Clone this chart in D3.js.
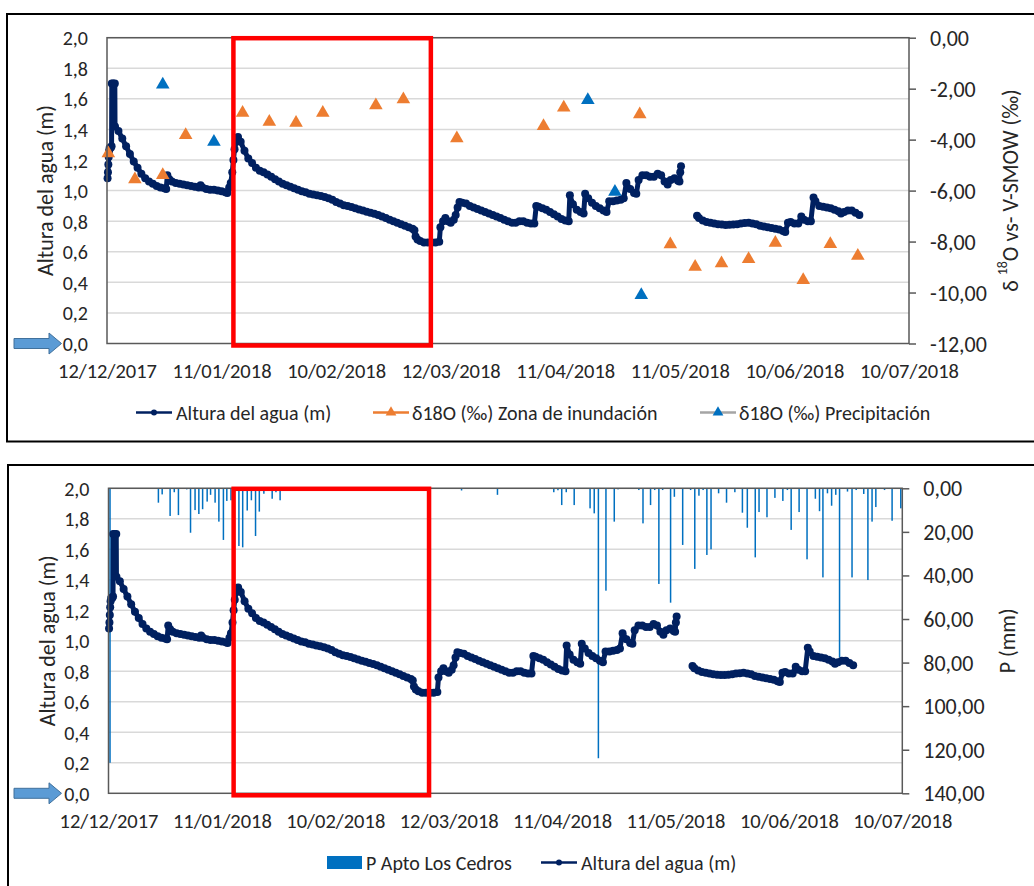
<!DOCTYPE html>
<html><head><meta charset="utf-8">
<script src="https://cdn.jsdelivr.net/npm/d3@7"></script>
<style>
body{margin:0;background:#fff;}
svg text{font-family:"Carlito","Open Sans",sans-serif;fill:#262626;}
</style></head><body>
<svg id="c" width="1034" height="886"></svg>
<script>
// ---------- DATA ----------
const startDate = "2017-12-12";
const endDate = "2018-07-10";
const dateTicks = ["2017-12-12","2018-01-11","2018-02-10","2018-03-12","2018-04-11","2018-05-11","2018-06-10","2018-07-10"];
const leftTicks = [0,0.2,0.4,0.6,0.8,1.0,1.2,1.4,1.6,1.8,2.0];
const isoTicks = [0,-2,-4,-6,-8,-10,-12];
const rainTicks = [0,20,40,60,80,100,120,140];

// water level (m): day offset from 12/12/2017, value (null = gap)
const levelDays = [0.15,0.25,0.35,0.45,0.55,0.7,1.0,1.2,1.25,1.6,2.05,2.1,
 3,4,5,6,7,8,9,10,11,12,13,14,15,15.5,15.8,16.3,17,18,19,20,21,22,23,24,24.5,25,26,27,28,29,30,31,31.5,
 32,32.4,32.8,33.1,33.4,33.8,34.3,35,36,37,38,39,40,41,42,43,44,45,46,47,48,49,50,51,52,53,54,55,56,57,58,59,60,
 61,62,63,64,65,66,67,68,69,70,71,72,73,74,75,76,77,78,79,80,80.5,80.8,81.3,82,83,84,85,86,87,
 87.3,88,88.6,89.3,90,90.8,91.3,91.8,92.3,93,94,95,96,97,98,99,100,101,102,103,104,105,106,107,108,109,110,111,111.9,
 112.4,113,114,115,116,117,118,119,120,120.9,121.2,122,123,124,124.8,125.2,126,127,128,129,130,130.8,131.5,132.5,133.5,134.5,135.3,
 136,137,138,138.6,139.2,140.2,141.2,142.2,143.2,144.2,145.1,146,146.8,147.6,148.6,149.5,149.9,150.1,150.3,
 152,
 154.5,155,156,157,158,159,160,161,162,163,164,165,166,167,168,169,170,171,172,173,174,175,176,177,177.6,
 178.3,179,180,181,181.8,182.5,183.5,184.3,185,185.5,186.5,187.5,188.5,189.5,190.5,191.5,192.2,193,194,195,196,197];
const levelValues = [1.08,1.12,1.17,1.22,1.26,1.28,1.28,1.29,1.70,1.70,1.70,1.42,
 1.39,1.34,1.29,1.24,1.19,1.15,1.11,1.08,1.06,1.045,1.03,1.02,1.015,1.01,1.10,1.075,1.06,1.05,1.045,1.04,1.035,1.03,1.025,1.02,1.035,1.02,1.01,1.005,1.005,1.0,0.995,0.99,0.985,
 1.02,1.05,1.12,1.2,1.27,1.32,1.35,1.32,1.26,1.21,1.18,1.15,1.13,1.12,1.105,1.09,1.075,1.06,1.045,1.035,1.025,1.015,1.005,0.995,0.99,0.98,0.975,0.97,0.965,0.958,0.95,0.94,0.925,
 0.915,0.905,0.9,0.893,0.885,0.877,0.87,0.862,0.855,0.848,0.84,0.83,0.82,0.81,0.8,0.79,0.78,0.77,0.76,0.75,0.74,0.70,0.68,0.67,0.66,0.66,0.66,0.66,0.665,
 0.76,0.80,0.82,0.80,0.79,0.81,0.84,0.89,0.925,0.92,0.915,0.90,0.89,0.88,0.87,0.86,0.85,0.84,0.83,0.82,0.81,0.80,0.79,0.79,0.80,0.80,0.79,0.785,0.785,
 0.90,0.895,0.885,0.875,0.86,0.845,0.83,0.815,0.805,0.80,0.97,0.91,0.875,0.86,0.85,0.98,0.95,0.92,0.90,0.885,0.87,0.86,0.93,0.93,0.935,0.94,0.95,
 1.05,1.01,0.985,0.98,1.07,1.10,1.10,1.09,1.09,1.11,1.10,1.06,1.04,1.07,1.08,1.065,1.06,1.12,1.16,
 null,
 0.835,0.82,0.805,0.795,0.79,0.785,0.78,0.778,0.775,0.776,0.778,0.78,0.785,0.788,0.79,0.785,0.78,0.77,0.765,0.76,0.755,0.75,0.745,0.735,0.73,
 0.79,0.795,0.785,0.785,0.83,0.81,0.80,0.80,0.955,0.93,0.90,0.895,0.89,0.885,0.875,0.865,0.85,0.86,0.87,0.87,0.855,0.84];

// δ18O (‰) flood zone
const zonaDays = [0.35,7.3,14.6,20.6,35.5,42.5,49.5,56.5,70.4,77.6,91.6,114.3,119.6,139.5,147.5,154,160.9,168,175,182.3,189.4,196.6];
const zonaValues = [-4.54,-5.56,-5.39,-3.82,-2.95,-3.3,-3.34,-2.95,-2.65,-2.42,-3.95,-3.47,-2.74,-3.01,-8.11,-8.99,-8.85,-8.69,-8.05,-9.51,-8.1,-8.56];
// δ18O (‰) precipitation
const precDays = [14.6,28,125.9,133,139.9];
const precValues = [-1.84,-4.09,-2.45,-6.05,-10.1];

// daily rainfall P Apto Los Cedros (mm)
const rainDays = [0.4,13.2,14.2,16.3,17.4,18.5,20.7,21.7,22.9,23.9,24.9,26.1,27,28.2,29.2,30.4,31.3,32.4,34.5,35.5,
 36.7,37.8,38.9,39.9,41.1,43.3,44.3,45.4,93.4,102.9,117.8,118.9,119.9,121.1,123.2,127.4,128.5,129.6,131.6,133.8,
 134.8,140.3,141.4,143.4,144.5,145.6,146.6,148.7,149.7,151.9,154,155.1,156.2,157.3,158.3,159.4,161.4,163.5,165.7,167.7,
 169,171.1,172.1,174.2,176.3,178.4,179.6,180.6,182.7,184.8,187,188.1,189,190.2,191.3,192.4,193.4,195.5,196.7,197.8,
 199.8,200.9,202,203,205.3,207.3,209.6];
const rainValues = [126,6.6,2.8,12.7,1.8,12.3,0.5,20.4,10,11.8,9.6,6.1,3.0,6.6,15.3,23.7,5.8,5.5,26.5,27.1,
 10.2,5.5,21.9,10.7,2.5,4.8,1.8,5.5,1,3,1.8,0.9,7.7,1.8,7.7,9.2,11.5,123.9,47,15.3,
 0.5,0.8,16.1,7.7,0.8,43.9,0.8,52.5,3.9,26,0.8,37,3.4,0.8,30.6,28,2.3,6.6,1.8,11.2,
 18.1,31.7,10.9,13.3,4.4,5.8,0.8,19.1,10.9,32.6,4.8,10.5,40.9,2.3,8,3.0,77.6,1.5,40.9,0.8,
 2.6,42.1,15.3,8.6,0.8,14.9,9.2];

// highlighted period (red box), day offsets
const highlightDays = [33.1, 84.8];

// ---------- DRAW ----------
const C_LEVEL = "#002060", C_ORANGE = "#ED7D31", C_BLUE = "#0070C0", C_GREY = "#A5A5A5";
const parse = d3.utcParse("%Y-%m-%d");
const t0 = parse(startDate), t1 = parse(endDate);
const dayToDate = d => new Date(t0.getTime() + d * 864e5);
const fmtDate = d3.utcFormat("%d/%m/%Y");
const comma = f => v => d3.format(f)(v).replace("−", "-").replace(".", ",");
const svg = d3.select("#c");

const levelData = levelDays.map((d, i) => ({date: dayToDate(d), v: levelValues[i]}));

// panel frames
svg.append("rect").attr("x", 7).attr("y", 14).attr("width", 1040).attr("height", 427.5)
  .attr("fill", "none").attr("stroke", "#000").attr("stroke-width", 2);
svg.append("rect").attr("x", 8).attr("y", 465).attr("width", 1040).attr("height", 440)
  .attr("fill", "none").attr("stroke", "#000").attr("stroke-width", 2);

function panel(cfg) {
  const x = d3.scaleUtc().domain([t0, t1]).range([cfg.x0, cfg.x1]);
  const y = d3.scaleLinear().domain([0, 2]).range([cfg.y1, cfg.y0]);
  const yr = d3.scaleLinear().domain(cfg.rDomain).range(cfg.rRange);
  const g = svg.append("g");

  // gridlines
  g.append("g").selectAll("line").data(leftTicks.slice(1)).join("line")
    .attr("x1", cfg.x0).attr("x2", cfg.x1).attr("y1", d => y(d)).attr("y2", d => y(d))
    .attr("stroke", "#D9D9D9").attr("stroke-width", 1.5);

  cfg.extra && cfg.extra(g, x, y, yr);

  // water level series
  const line = d3.line().defined(d => d.v != null).x(d => x(d.date)).y(d => y(d.v));
  g.append("path").datum(levelData).attr("d", line).attr("fill", "none")
    .attr("stroke", C_LEVEL).attr("stroke-width", 5).attr("stroke-linejoin", "round").attr("stroke-linecap", "round");
  g.append("g").selectAll("circle").data(levelData.filter(d => d.v != null)).join("circle")
    .attr("cx", d => x(d.date)).attr("cy", d => y(d.v)).attr("r", 4).attr("fill", C_LEVEL);

  cfg.extraTop && cfg.extraTop(g, x, y, yr);

  // plot border
  g.append("rect").attr("x", cfg.x0).attr("y", cfg.y0).attr("width", cfg.x1 - cfg.x0).attr("height", cfg.y1 - cfg.y0)
    .attr("fill", "none").attr("stroke", "#595959").attr("stroke-width", 1.5);

  // left axis
  const ga = g.append("g").attr("transform", `translate(${cfg.x0},0)`)
    .call(d3.axisLeft(y).tickValues(leftTicks).tickSize(0).tickPadding(19).tickFormat(comma(".1f")));
  ga.select(".domain").remove();
  ga.selectAll("text").attr("font-size", 20).attr("dy", null).attr("dominant-baseline", "central");

  // right axis
  const gr = g.append("g").attr("transform", `translate(${cfg.x1},0)`)
    .call(d3.axisRight(yr).tickValues(cfg.rTicks).tickSize(7).tickPadding(14).tickFormat(comma(".2f")));
  gr.select(".domain").remove();
  gr.selectAll("line").attr("stroke", "#595959").attr("stroke-width", 1.5);
  gr.selectAll("text").attr("font-size", 22).attr("dy", null).attr("dominant-baseline", "central");

  // bottom axis
  const gb = g.append("g").attr("transform", `translate(0,${cfg.y1})`)
    .call(d3.axisBottom(x).tickValues(dateTicks.map(parse)).tickSize(0).tickPadding(0).tickFormat(fmtDate));
  gb.select(".domain").remove();
  gb.selectAll("text").attr("font-size", 20.5).attr("y", 27.5).attr("dy", null).attr("dominant-baseline", "central");
  [ga, gr, gb].forEach(a => a.attr("font-family", null).attr("font-size", null));

  // axis titles
  g.append("text").attr("transform", `translate(${cfg.ltx},${(cfg.y0 + cfg.y1) / 2}) rotate(-90)`)
    .attr("text-anchor", "middle").attr("dominant-baseline", "central").attr("font-size", 22)
    .text("Altura del agua (m)");
  cfg.rTitle(g.append("text").attr("transform", `translate(${cfg.rtx},${(cfg.y0 + cfg.y1) / 2}) rotate(-90)`)
    .attr("text-anchor", "middle").attr("dominant-baseline", "central").attr("font-size", 22));

  // highlight box
  g.append("rect").attr("x", x(dayToDate(highlightDays[0]))).attr("y", cfg.y0 + 0.5)
    .attr("width", x(dayToDate(highlightDays[1])) - x(dayToDate(highlightDays[0])))
    .attr("height", cfg.y1 - cfg.y0 + 1.5)
    .attr("fill", "none").attr("stroke", "#FF0000").attr("stroke-width", 4.5);

  // blue arrow pointing at 0,0
  const ay = cfg.y1;
  g.append("path").attr("d", `M14,${ay - 5} L49,${ay - 5} L49,${ay - 10.5} L61.5,${ay} L49,${ay + 10.5} L49,${ay + 5} L14,${ay + 5} Z`)
    .attr("fill", "#5B9BD5").attr("stroke", "#41719C").attr("stroke-width", 1);
}

// top panel
panel({
  x0: 107, x1: 909, y0: 37.7, y1: 343.5, ltx: 45, rtx: 1010,
  rDomain: [-12, 0], rRange: [343.5, 37.7], rTicks: isoTicks,
  rTitle: t => { t.append("tspan").text("δ "); t.append("tspan").attr("font-size", 14).attr("dy", -8).text("18");
                 t.append("tspan").attr("dy", 8).text("O vs- V-SMOW (‰)"); },
  extraTop: (g, x, y, yr) => {
    const tri = d3.symbol().type(d3.symbolTriangle).size(80);
    g.append("g").selectAll("path").data(zonaDays.map((d, i) => [d, zonaValues[i]])).join("path")
      .attr("d", tri).attr("transform", d => `translate(${x(dayToDate(d[0]))},${yr(d[1])})`).attr("fill", C_ORANGE);
    g.append("g").selectAll("path").data(precDays.map((d, i) => [d, precValues[i]])).join("path")
      .attr("d", tri).attr("transform", d => `translate(${x(dayToDate(d[0]))},${yr(d[1])})`).attr("fill", C_BLUE);
  }
});

// bottom panel
panel({
  x0: 108.5, x1: 902.3, y0: 488.3, y1: 793.3, ltx: 47, rtx: 1007,
  rDomain: [0, 140], rRange: [488.3, 793.3], rTicks: rainTicks,
  rTitle: t => t.text("P (mm)"),
  extra: (g, x, y, yr) => {
    g.append("g").selectAll("rect").data(rainDays.map((d, i) => [d, rainValues[i]])).join("rect")
      .attr("x", d => x(dayToDate(d[0])) - 0.75).attr("width", 1.5)
      .attr("y", yr(0)).attr("height", d => yr(d[1]) - yr(0)).attr("fill", C_BLUE);
  }
});

// legends
function legLine(lx, ly, color, marker, mcolor) {
  svg.append("line").attr("x1", lx).attr("x2", lx + 36).attr("y1", ly).attr("y2", ly)
    .attr("stroke", color).attr("stroke-width", 2.5);
  if (marker === "circle") svg.append("circle").attr("cx", lx + 18).attr("cy", ly).attr("r", 3).attr("fill", mcolor);
  else svg.append("path").attr("d", d3.symbol().type(d3.symbolTriangle).size(50))
    .attr("transform", `translate(${lx + 18},${ly})`).attr("fill", mcolor);
}
function legText(lx, ly, s) {
  svg.append("text").attr("x", lx).attr("y", ly).attr("dominant-baseline", "central").attr("font-size", 20).text(s);
}
const ly1 = 412.5;
legLine(136, ly1, C_LEVEL, "circle", C_LEVEL); legText(176, ly1, "Altura del agua (m)");
legLine(373, ly1, C_ORANGE, "tri", C_ORANGE); legText(412, ly1, "δ18O (‰) Zona de inundación");
legLine(700, ly1, C_GREY, "tri", C_BLUE); legText(739, ly1, "δ18O (‰) Precipitación");

const ly2 = 862.5;
svg.append("rect").attr("x", 327).attr("y", ly2 - 6.5).attr("width", 35).attr("height", 13).attr("fill", C_BLUE);
legText(366, ly2, "P Apto Los Cedros");
legLine(541, ly2, C_LEVEL, "circle", C_LEVEL); legText(581, ly2, "Altura del agua (m)");
</script>
</body></html>
